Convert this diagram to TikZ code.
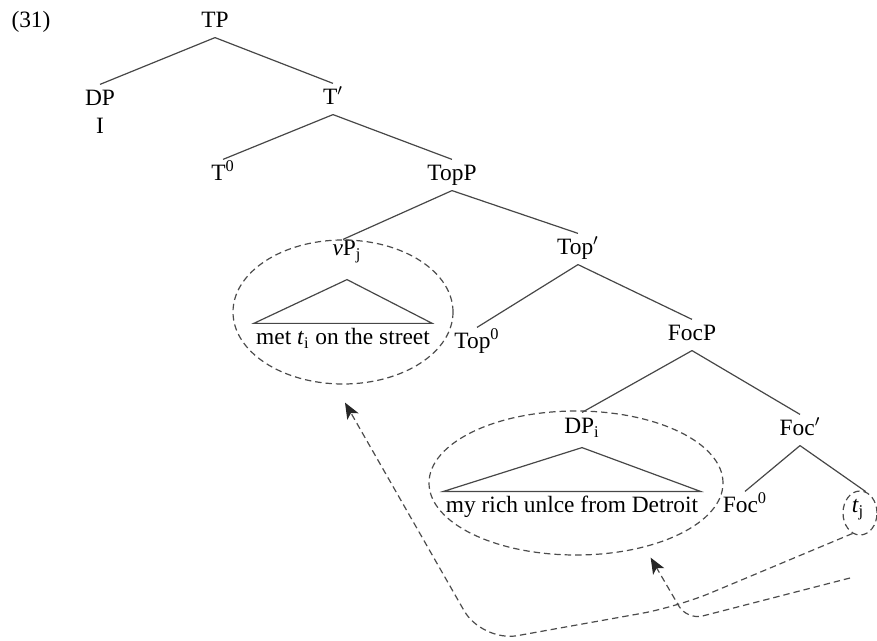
\documentclass[tikz,border=0pt]{standalone}
\usepackage{fontspec}
\setmainfont{Liberation Serif}
\usetikzlibrary{positioning,shapes.geometric,arrows.meta}

\begin{document}
\begin{tikzpicture}[node distance = 1.4 cm, on grid]
        \tikzset{Label/.style = {inner xsep=1pt,
            inner ysep = 2.5pt,
            text height = 7.9pt,
            text depth  = 2.3pt,
            font = \fontsize{11.7}{14}\selectfont},
          Branch/.style = {draw=black!72, line width=0.6pt},
          Ring/.style = {draw=black!70, ellipse, inner sep=0pt,
            dash pattern = on 3.2pt off 2pt, line width=0.6pt},
          Move/.style = {draw=black!70, dash pattern=on 3.2pt off 2pt,
            line width = 0.6pt, rounded corners=18pt,
            -{Stealth[length=8pt,width=6.5pt,inset=2pt,black!85]}}}
        \useasboundingbox (0,0) rectangle (438.5pt,-320.5pt);
        \node[Label] (TP) at (107.5pt,-11pt) {TP};
        \node[Label, left=92pt of TP] (Ex) {(31)};
        \node[Label, below left=39pt and 57.5pt of TP] (DP) {DP};
        \node[Label, below=14pt of DP] (I) {I};
        \node[Label, below right=38.5pt and 59pt of TP] (Tbar) {T$'$};
        \node[Label, below left=38pt and 55pt of Tbar] (T0) {T\textsuperscript{0}};
        \node[Label, below right=38pt and 59.5pt of Tbar] (TopP) {TopP};
        \node[Label, below left=37.5pt and 52.5pt of TopP] (vP) {\textit{v}P\textsubscript{j}};
        \node[Label, below=44.5pt of vP, xshift=-2pt] (vPStr) {met \textit{t}\textsubscript{i} on the street};
        \node[Label, below right=37pt and 63pt of TopP] (Topbar) {Top$'$};
        \node[Label, below left=47pt and 50.5pt of Topbar] (Top0) {Top\textsuperscript{0}};
        \node[Label, below right=43pt and 57pt of Topbar] (FocP) {FocP};
        \node[Label, below left=46.5pt and 55pt of FocP] (DPi) {DP\textsubscript{i}};
        \node[Label, below=39.5pt of DPi, xshift=-5pt] (DPStr) {my rich unlce from Detroit};
        \node[Label, below right=47.5pt and 54pt of FocP] (Focbar) {Foc$'$};
        \node[Label, below left=38.5pt and 27.5pt of Focbar] (Foc0) {Foc\textsuperscript{0}};
        \node[Label, below right=38.5pt and 29pt of Focbar] (tj) {\textit{t}\textsubscript{j}};
        \node[Ring, minimum width=110pt, minimum height=72pt, below=31pt of vP, xshift=-2pt] (vPRing) {};
        \node[Ring, minimum width=147pt, minimum height=72pt, below=27.5pt of DPi, xshift=-3pt] (DPRing) {};
        \node[Ring, minimum width=17pt, minimum height=22pt, below=3pt of tj, xshift=1pt] (tjRing) {};
        \draw[Branch] (TP.south) -- (DP.north);
        \draw[Branch] (TP.south) -- (Tbar.north);
        \draw[Branch] (Tbar.south) -- (T0.north);
        \draw[Branch] (Tbar.south) -- (TopP.north);
        \draw[Branch] (TopP.south) -- (vPRing.north);
        \draw[Branch] (TopP.south) -- (Topbar.north);
        \draw[Branch] ([yshift=-7pt]vP.south) -- (vPStr.north west) -- (vPStr.north east) -- cycle;
        \draw[Branch] (Topbar.south) -- (Top0.north);
        \draw[Branch] (Topbar.south) -- (FocP.north);
        \draw[Branch] (FocP.south) -- (DPi.north);
        \draw[Branch] (FocP.south) -- (Focbar.north);
        \draw[Branch] ([yshift=-2pt]DPi.south) -- (DPStr.north west) -- (DPStr.north east) -- cycle;
        \draw[Branch] (Focbar.south) -- (Foc0.north);
        \draw[Branch] (Focbar.south) -- (tjRing.75);
        \coordinate (KinkA) at (338.5pt,-303.5pt);
        \coordinate (LowA) at (241pt,-321pt);
        \draw[Move] (tjRing.250) -- (KinkA) -- (LowA) -- ([shift={(1pt,-9pt)}]vPRing.south);
        \coordinate (StartB) at (425pt,-289pt);
        \coordinate (LowB) at (343.5pt,-310pt);
        \draw[Move, rounded corners=8pt] (StartB) -- (LowB) -- ([yshift=-6pt]DPRing.320);
      \end{tikzpicture}
\end{document}
